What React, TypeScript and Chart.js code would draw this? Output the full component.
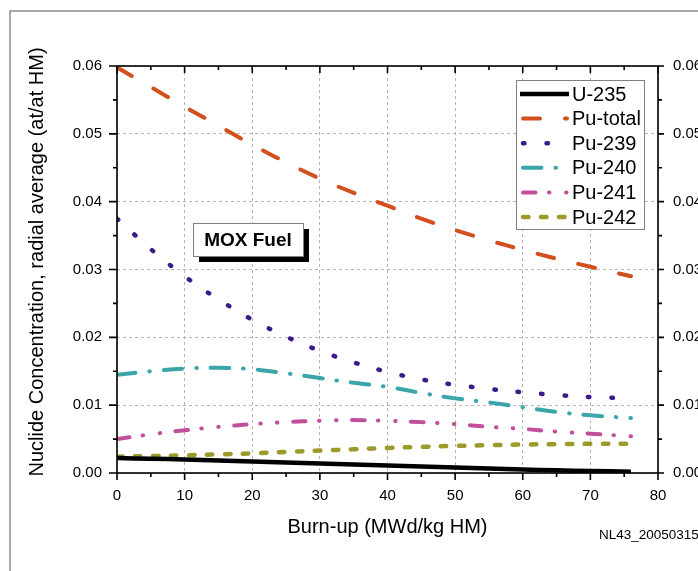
import React, { useEffect, useRef } from 'react';
import { Chart, registerables } from 'chart.js';

Chart.register(...registerables);

// ---- data ----
const burnup = [0, 5, 10, 15, 20, 25, 30, 35, 40, 45, 50, 55, 60, 65, 70, 76];
const u235 = [0.0022, 0.0021, 0.002, 0.00185, 0.0017, 0.00155, 0.0014, 0.00125, 0.0011, 0.00095, 0.0008, 0.00065, 0.0005, 0.0004, 0.0003, 0.0002];
const puTotal = [0.0598, 0.0569, 0.054, 0.0512, 0.0484, 0.0458, 0.0434, 0.0413, 0.0394, 0.0375, 0.0358, 0.0343, 0.0329, 0.0316, 0.0304, 0.029];
const pu239 = [0.0375, 0.033, 0.029, 0.0256, 0.0226, 0.0201, 0.018, 0.0163, 0.0149, 0.0138, 0.013, 0.0124, 0.0119, 0.0115, 0.0112, 0.011];
const pu240 = [0.0145, 0.015, 0.0154, 0.0155, 0.0153, 0.0147, 0.014, 0.0133, 0.0127, 0.0118, 0.011, 0.0104, 0.0097, 0.009, 0.0085, 0.0081];
const pu241 = [0.005, 0.0057, 0.0063, 0.0068, 0.0072, 0.0075, 0.0077, 0.0078, 0.0077, 0.0075, 0.0072, 0.0068, 0.0065, 0.0061, 0.0058, 0.0054];
const pu242 = [0.0024, 0.0025, 0.0026, 0.00275, 0.0029, 0.0031, 0.0033, 0.0035, 0.0037, 0.00385, 0.004, 0.0041, 0.0042, 0.00425, 0.0043, 0.0043];

const seriesLabels = ['U-235', 'Pu-total', 'Pu-239', 'Pu-240', 'Pu-241', 'Pu-242'];
const seriesValues = [u235, puTotal, pu239, pu240, pu241, pu242];
const seriesColors = ['#000000', '#d24f1e', '#3b1b8c', '#3aa6a9', '#c24f9c', '#9a9b2b'];
const seriesDashes: number[][] = [[], [17, 25], [1.5, 22], [18.5, 14, 0.5, 14], [12.5, 13.5, 0.5, 16.5, 0.5, 15.5], [5.5, 12.5]];
const seriesWidths = [4.5, 4, 4.5, 4, 4, 4.5];

const xTicks = [0, 10, 20, 30, 40, 50, 60, 70, 80];
const yTicks = [0, 0.01, 0.02, 0.03, 0.04, 0.05, 0.06];
const xTitle = 'Burn-up (MWd/kg HM)';
const yTitle = 'Nuclide Concentration, radial average (at/at HM)';
const annotation = 'MOX Fuel';
const footnote = 'NL43_20050315';

const FONT = '"Liberation Sans", Arial, Helvetica, sans-serif';
const W = 698;
const H = 571;

const decorPlugin = {
  id: 'decor',
  beforeDraw(chart: any) {
    const ctx = chart.ctx;
    ctx.save();
    ctx.fillStyle = '#ffffff';
    ctx.fillRect(0, 0, W, H);
    ctx.strokeStyle = '#8a8a8a';
    ctx.lineWidth = 1.5;
    ctx.beginPath();
    ctx.moveTo(10, H);
    ctx.lineTo(10, 11);
    ctx.lineTo(W, 11);
    ctx.stroke();
    ctx.restore();
  },
  afterDatasetsDraw(chart: any) {
    const ctx = chart.ctx;
    // annotation box
    ctx.save();
    ctx.fillStyle = '#000';
    ctx.fillRect(199, 229, 110, 33);
    ctx.fillStyle = '#fff';
    ctx.fillRect(193, 223, 110, 33);
    ctx.strokeStyle = '#808080';
    ctx.lineWidth = 1;
    ctx.strokeRect(193.5, 223.5, 110, 33);
    ctx.fillStyle = '#000';
    ctx.font = 'bold 19px ' + FONT;
    ctx.textAlign = 'center';
    ctx.textBaseline = 'middle';
    ctx.fillText(annotation, 248, 241);
    ctx.restore();

    // legend
    ctx.save();
    ctx.fillStyle = '#fff';
    ctx.fillRect(516, 80, 128, 149);
    ctx.strokeStyle = '#808080';
    ctx.lineWidth = 1;
    ctx.strokeRect(516.5, 80.5, 128, 149);
    chart.data.datasets.forEach((ds: any, i: number) => {
      const y = 94 + i * 24.6;
      ctx.save();
      ctx.strokeStyle = ds.borderColor;
      ctx.lineWidth = ds.borderWidth;
      ctx.lineCap = i === 0 ? 'butt' : 'round';
      ctx.setLineDash(ds.borderDash || []);
      ctx.beginPath();
      ctx.moveTo(i === 0 ? 520 : 523, y);
      ctx.lineTo(i === 0 ? 569 : 567, y);
      ctx.stroke();
      ctx.restore();
      ctx.fillStyle = '#000';
      ctx.font = '20px ' + FONT;
      ctx.textAlign = 'left';
      ctx.textBaseline = 'middle';
      ctx.fillText(ds.label, 572, y + 1);
    });
    ctx.restore();
  },
  afterDraw(chart: any) {
    const ctx = chart.ctx;
    const a = chart.chartArea;
    const xs = chart.scales.x;
    const ys = chart.scales.y;
    ctx.save();
    ctx.strokeStyle = '#000';
    ctx.lineWidth = 1.6;
    ctx.strokeRect(a.left, a.top, a.right - a.left, a.bottom - a.top);
    ctx.beginPath();
    for (let v = 0; v <= 80; v += 5) {
      const major = v % 10 === 0;
      const px = xs.getPixelForValue(v);
      ctx.moveTo(px, a.bottom);
      ctx.lineTo(px, a.bottom + (major ? 7 : 4));
      ctx.moveTo(px, a.top);
      ctx.lineTo(px, a.top + (major ? 7 : 4));
    }
    for (let k = 0; k <= 12; k++) {
      const v = k * 0.005;
      const major = k % 2 === 0;
      const py = ys.getPixelForValue(v);
      ctx.moveTo(a.left, py);
      ctx.lineTo(a.left - (major ? 8 : 4), py);
      ctx.moveTo(a.right, py);
      ctx.lineTo(a.right + (major ? 6 : 4), py);
    }
    ctx.stroke();

    // y title
    ctx.fillStyle = '#000';
    ctx.font = '20px ' + FONT;
    ctx.textAlign = 'center';
    ctx.textBaseline = 'middle';
    ctx.translate(37, 262);
    ctx.rotate(-Math.PI / 2);
    ctx.fillText(yTitle, 0, 0);
    ctx.setTransform(1, 0, 0, 1, 0, 0);

    // footnote
    ctx.font = '13.5px ' + FONT;
    ctx.textAlign = 'left';
    ctx.textBaseline = 'alphabetic';
    ctx.fillText(footnote, 599, 539);
    ctx.restore();
  },
};

export default function App() {
  const ref = useRef<HTMLCanvasElement | null>(null);
  useEffect(() => {
    if (!ref.current) return;
    const datasets = seriesLabels.map((label, i) => ({
      label,
      data: burnup.map((x, j) => ({ x, y: seriesValues[i][j] })),
      borderColor: seriesColors[i],
      backgroundColor: seriesColors[i],
      borderWidth: seriesWidths[i],
      borderDash: seriesDashes[i],
      borderCapStyle: i === 0 ? 'butt' : 'round',
      pointRadius: 0,
      tension: 0.35,
      fill: false,
    }));
    const tickFont = { family: FONT, size: 15 };
    const chart = new Chart(ref.current, {
      type: 'line',
      data: { datasets: datasets as any },
      plugins: [decorPlugin],
      options: {
        animation: false,
        responsive: false,
        devicePixelRatio: 1,
        layout: { padding: { left: 0, right: 0, top: 66, bottom: 0 } },
        plugins: { legend: { display: false }, tooltip: { enabled: false } },
        scales: {
          x: {
            type: 'linear',
            position: 'bottom',
            min: 0,
            max: 80,
            afterBuildTicks: (s: any) => { s.ticks = xTicks.map((v) => ({ value: v })); },
            afterFit: (s: any) => { s.height = H - 473; },
            ticks: { font: tickFont, color: '#000', padding: 14, maxRotation: 0, autoSkip: false },
            grid: { color: '#b5b5b5', lineWidth: 1, drawTicks: false },
            border: { display: false, dash: [3, 3] },
            title: { display: true, text: xTitle, color: '#000', font: { family: FONT, size: 20 }, padding: { top: 0, bottom: 32 } },
          },
          y: {
            type: 'linear',
            position: 'left',
            min: 0,
            max: 0.06,
            afterBuildTicks: (s: any) => { s.ticks = yTicks.map((v) => ({ value: v })); },
            afterFit: (s: any) => { s.width = 117; },
            ticks: { font: tickFont, color: '#000', padding: 15, callback: (v: any) => Number(v).toFixed(2) },
            grid: { color: '#b5b5b5', lineWidth: 1, drawTicks: false },
            border: { display: false, dash: [3, 3] },
          },
          y2: {
            type: 'linear',
            position: 'right',
            min: 0,
            max: 0.06,
            afterBuildTicks: (s: any) => { s.ticks = yTicks.map((v) => ({ value: v })); },
            afterFit: (s: any) => { s.width = W - 658; },
            ticks: { font: tickFont, color: '#000', padding: 15, callback: (v: any) => Number(v).toFixed(2) },
            grid: { display: false, drawTicks: false },
            border: { display: false },
          },
        },
      } as any,
    });
    return () => chart.destroy();
  }, []);
  return (
    <div style={{ position: 'absolute', left: 0, top: 0, width: W, height: H }}>
      <canvas ref={ref} width={W} height={H} style={{ display: 'block' }} />
    </div>
  );
}
